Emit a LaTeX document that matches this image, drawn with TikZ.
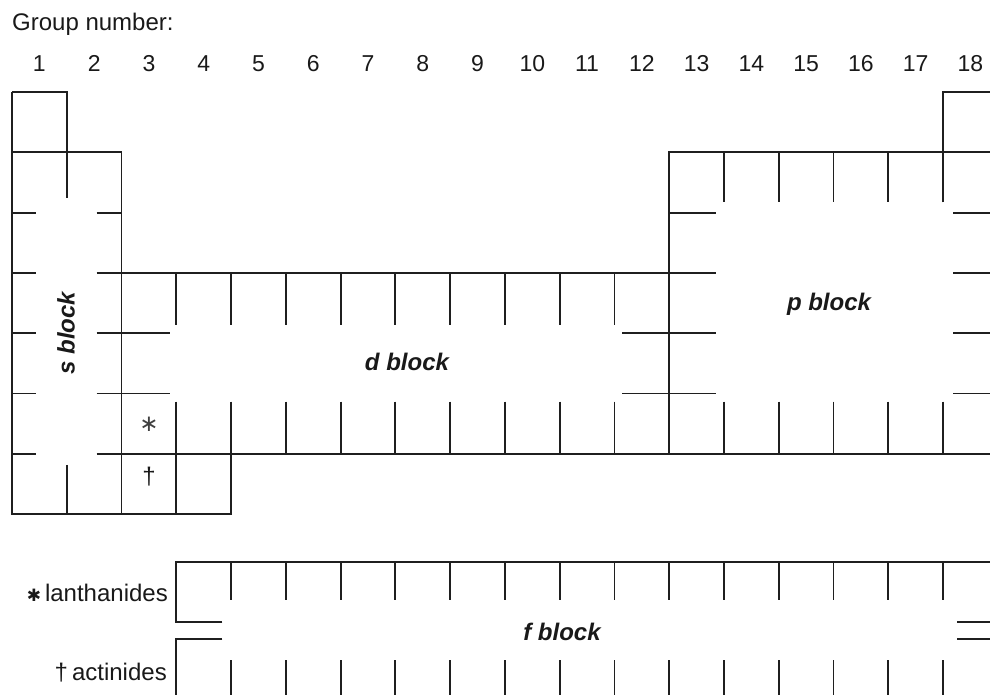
\documentclass[tikz,border=0pt]{standalone}
\usepackage{fontspec}
\setmainfont{Liberation Sans}
\newfontfamily\djv{DejaVu Sans}
\newcommand{\cx}[1]{12+54.77*(#1)}
\newcommand{\ry}[1]{92+60.3*(#1)}
\begin{document}
\begin{tikzpicture}[x=1pt,y=-1pt,
  ln/.style={line width=1.8pt, draw=black!88, line cap=butt, line join=miter},
  lbl/.style={font=\fontsize{24}{28}\selectfont, inner sep=0pt, text=black!90},
  grp/.style={font=\fontsize{23}{27}\selectfont, inner sep=0pt, anchor=base, text=black!90},
  blk/.style={font=\fontsize{24}{28}\selectfont\bfseries\itshape, inner sep=0pt, text=black!90}]
\useasboundingbox (0,0) rectangle (990,695);
\clip (0,0) rectangle (990,695);

% ---------- s block and left outline ----------
\draw[ln] ({\cx{0}},{\ry{0}}) -- ({\cx{1}},{\ry{0}}) -- ({\cx{1}},{\ry{1}+46});
\draw[ln] ({\cx{0}},{\ry{0}}) -- ({\cx{0}},{\ry{7}}) -- ({\cx{4}},{\ry{7}}) -- ({\cx{4}},{\ry{6}});
\draw[ln] ({\cx{0}},{\ry{1}}) -- ({\cx{2}},{\ry{1}}) -- ({\cx{2}},{\ry{7}});
\foreach \j in {2,...,6} {
  \draw[ln] ({\cx{0}},{\ry{\j}}) -- ++(24,0);
}
\draw[ln] ({\cx{2}-25},{\ry{2}}) -- ({\cx{2}},{\ry{2}});
\draw[ln] ({\cx{1}},{\ry{6}+11}) -- ({\cx{1}},{\ry{7}});
\draw[ln] ({\cx{3}},{\ry{6}}) -- ({\cx{3}},{\ry{7}});

% ---------- d block ----------
\draw[ln] ({\cx{2}-25},{\ry{3}}) -- ({\cx{12}+47},{\ry{3}});
\foreach \j in {4,5} {
  \draw[ln] ({\cx{2}-25},{\ry{\j}}) -- ({\cx{2}+48},{\ry{\j}});
  \draw[ln] ({\cx{11}+8},{\ry{\j}}) -- ({\cx{12}+47},{\ry{\j}});
}
\draw[ln] ({\cx{2}-25},{\ry{6}}) -- ({\cx{18}},{\ry{6}});
\foreach \i in {3,...,11} {
  \draw[ln] ({\cx{\i}},{\ry{3}}) -- ({\cx{\i}},{\ry{3}+52});
  \draw[ln] ({\cx{\i}},{\ry{5}+8}) -- ({\cx{\i}},{\ry{6}});
}

% ---------- p block ----------
\draw[ln] ({\cx{12}},{\ry{6}}) -- ({\cx{12}},{\ry{1}}) -- ({\cx{18}},{\ry{1}});
\draw[ln] ({\cx{17}},{\ry{1}+50}) -- ({\cx{17}},{\ry{0}}) -- ({\cx{18}},{\ry{0}});
\foreach \i in {13,...,16} {
  \draw[ln] ({\cx{\i}},{\ry{1}}) -- ({\cx{\i}},{\ry{1}+50});
}
\draw[ln] ({\cx{12}},{\ry{2}}) -- ({\cx{12}+47},{\ry{2}});
\foreach \j in {2,...,5} {
  \draw[ln] ({\cx{17}+10},{\ry{\j}}) -- ({\cx{18}},{\ry{\j}});
}
\foreach \i in {13,...,17} {
  \draw[ln] ({\cx{\i}},{\ry{5}+8}) -- ({\cx{\i}},{\ry{6}});
}

% ---------- f block ----------
\draw[ln] ({\cx{3}+46},622) -- ({\cx{3}},622) -- ({\cx{3}},562) -- ({\cx{18}},562);
\draw[ln] ({\cx{3}+46},639) -- ({\cx{3}},639) -- ({\cx{3}},700);
\draw[ln] ({\cx{17}+14},622) -- ({\cx{18}},622);
\draw[ln] ({\cx{17}+14},639) -- ({\cx{18}},639);
\foreach \i in {4,...,17} {
  \draw[ln] ({\cx{\i}},562) -- ({\cx{\i}},600);
  \draw[ln] ({\cx{\i}},660) -- ({\cx{\i}},700);
}

% ---------- texts ----------
\node[lbl, anchor=base west] (title) at (12,31) {Group number:};
\foreach \i in {1,...,18} {
  \node[grp] (g\i) at ({\cx{\i-0.5}},72) {\i};
}
\node[blk, rotate=90] (sblk) at (66,333) {s block};
\node[blk, anchor=base] (dblk) at (407,370) {d block};
\node[blk, anchor=base] (pblk) at (829,310) {p block};
\node[blk, anchor=base] (fblk) at (562,640) {f block};
\node[lbl, font=\djv\fontsize{23}{26}\selectfont, text=black!75] (ast) at (149,424) {∗};
\node[lbl] (dag) at (149,477) {†};
\node[lbl, anchor=base east] (lan) at (168,601) {{\djv\fontsize{17}{20}\selectfont ✱}\,lanthanides};
\node[lbl, anchor=base east] (act) at (167,680) {†\,actinides};
\end{tikzpicture}
\end{document}
